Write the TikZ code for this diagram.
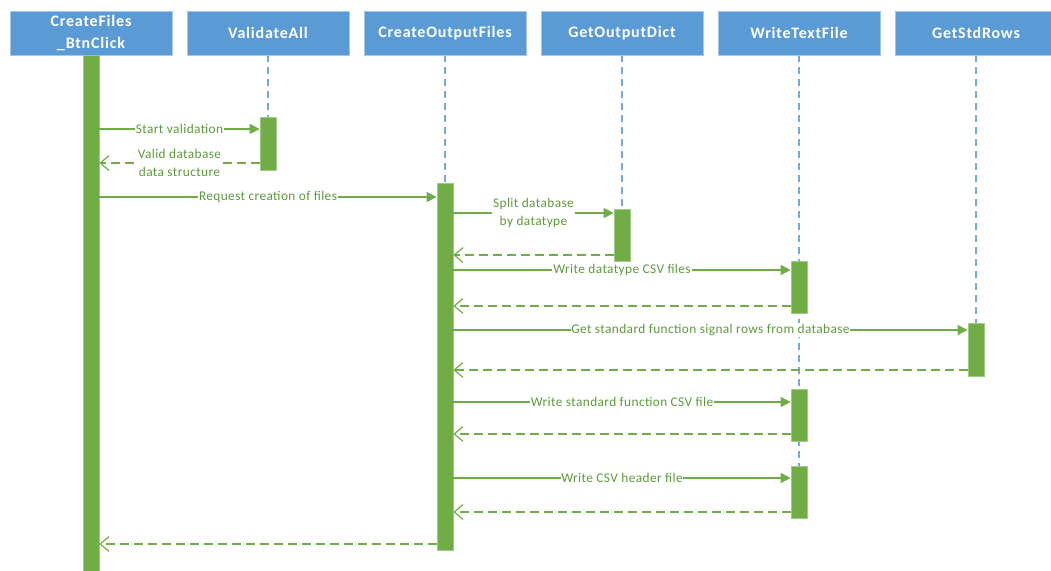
\documentclass[tikz,border=0pt]{standalone}
\usepackage{fontspec}
\setmainfont{Carlito}
\usetikzlibrary{arrows.meta,backgrounds}

\definecolor{headblue}{HTML}{5B9BD5}
\definecolor{barfill}{HTML}{70AD47}
\definecolor{txtgreen}{HTML}{5E9A3C}

\tikzset{
  head/.style={fill=headblue, draw=headblue!55!white, line width=0.6pt, text=white,
    font=\fontsize{12}{16}\selectfont\bfseries\addfontfeature{LetterSpace=5}, align=center,
    minimum width=121.5pt, minimum height=33pt, inner sep=0pt},
  actbar/.style={fill=barfill, draw=barfill!65!white, line width=0.5pt,
    minimum width=12pt, minimum height=#1*0.75pt, inner sep=0pt, anchor=north},
  life/.style={headblue!85!white, line width=0.9pt, dash pattern=on 5pt off 4pt},
  call/.style={barfill, line width=0.9pt, -{Triangle[length=7.5pt,width=7.5pt]}},
  ret/.style={barfill, line width=0.9pt, dash pattern=on 6.5pt off 4pt,
    -{Straight Barb[length=6.5pt,width=11pt]}},
  msg/.style={fill=white, text=txtgreen, inner sep=0.6pt, align=center,
    font=\fontsize{10}{13.5}\selectfont\addfontfeature{LetterSpace=3}}
}

\begin{document}
\begin{tikzpicture}[x=0.75pt, y=-0.75pt]
    \useasboundingbox (0,0) rectangle (1051,571);

    % lifeline heads
    \node[head] (h1) at (91,33) {CreateFiles\\\_BtnClick};
    \node[head] (h2) at (268,33) {ValidateAll};
    \node[head] (h3) at (445,33) {CreateOutputFiles};
    \node[head] (h4) at (622,33) {GetOutputDict};
    \node[head] (h5) at (799,33) {WriteTextFile};
    \node[head] (h6) at (976,33) {GetStdRows};

    % activation bars
    \node[actbar=520] (a1) at (91,55) {};
    \node[actbar=53] (a2) at (268,117) {};
    \node[actbar=367] (a3) at (445,183) {};
    \node[actbar=52] (a4) at (622,209) {};
    \node[actbar=52] (a5) at (799,261) {};
    \node[actbar=53] (a6) at (976,323) {};
    \node[actbar=52] (a7) at (799,389) {};
    \node[actbar=52] (a8) at (799,466) {};
    \coordinate (e5) at (799,522);

    % dashed lifelines behind the bars
    \begin{pgfonlayer}{background}
        \draw[life] (h2.south) -- (a2.north);
        \draw[life] (h3.south) -- (a3.north);
        \draw[life] (h4.south) -- (a4.north);
        \draw[life] (h5.south) -- (e5);
        \draw[life] (h6.south) -- (a6.north);
    \end{pgfonlayer}

    % validation
    \draw[call] (a1.east |- 0,129) -- (a2.west |- 0,129)
        node[msg, midway] {Start validation};
    \draw[ret] (a2.west |- 0,163) -- (a1.east |- 0,163)
        node[msg, midway] {Valid database\\data structure};

    % creation of the files
    \draw[call] (a1.east |- 0,197) -- (a3.west |- 0,197)
        node[msg, midway] {Request creation of files};
    \draw[call] (a3.east |- 0,213) -- (a4.west |- 0,213)
        node[msg, midway] {Split database\\by datatype};
    \draw[ret] (a4.west |- 0,255) -- (a3.east |- 0,255);
    \draw[call] (a3.east |- 0,270) -- (a5.west |- 0,270)
        node[msg, midway] {Write datatype CSV files};
    \draw[ret] (a5.west |- 0,306) -- (a3.east |- 0,306);
    \draw[call] (a3.east |- 0,330) -- (a6.west |- 0,330)
        node[msg, midway] {Get standard function signal rows from database};
    \draw[ret] (a6.west |- 0,370) -- (a3.east |- 0,370);
    \draw[call] (a3.east |- 0,402) -- (a7.west |- 0,402)
        node[msg, midway] {Write standard function CSV file};
    \draw[ret] (a7.west |- 0,434) -- (a3.east |- 0,434);
    \draw[call] (a3.east |- 0,478) -- (a8.west |- 0,478)
        node[msg, midway] {Write CSV header file};
    \draw[ret] (a8.west |- 0,512) -- (a3.east |- 0,512);

    % back to the caller
    \draw[ret] (a3.west |- 0,544) -- (a1.east |- 0,544);
\end{tikzpicture}
\end{document}
